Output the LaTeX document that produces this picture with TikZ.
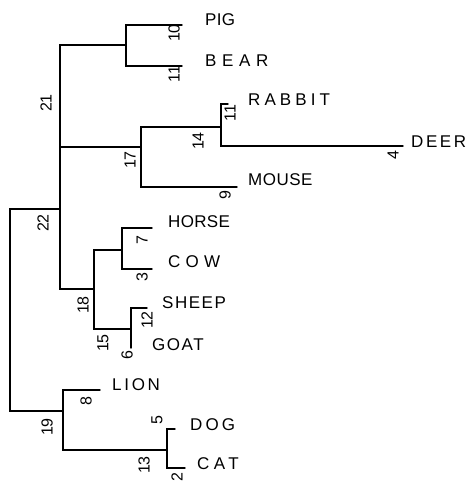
\documentclass[tikz,border=0pt]{standalone}
\usepackage{fontspec}
\setmainfont{Liberation Sans}
\begin{document}
\begin{tikzpicture}[x=1pt,y=-1pt,
  br/.style={line width=1.4pt, line cap=round, line join=miter},
  lab/.style={anchor=west, inner sep=0pt, font=\fontsize{17}{20}\selectfont\addfontfeature{LetterSpace=#1}},
  num/.style={inner sep=0pt, rotate=90, font=\fontsize{16}{18}\selectfont}]
\useasboundingbox (0,0) rectangle (467,487);
% junction and leaf coordinates
\coordinate (cPB) at (126,45);
\coordinate (pig) at (182,25);
\coordinate (bear) at (182,66);
\coordinate (c17) at (141,147);
\coordinate (c14) at (221,127);
\coordinate (rab) at (228,104);
\coordinate (deer) at (403,146);
\coordinate (mouse) at (237,187);
\coordinate (c22) at (60,209);
\coordinate (c18) at (94,289);
\coordinate (c7) at (122,250);
\coordinate (horse) at (152,228);
\coordinate (cow) at (152,269);
\coordinate (c12) at (131,329);
\coordinate (sheep) at (147,308);
\coordinate (goat) at (131,348);
\coordinate (r) at (10,310);
\coordinate (c19) at (63,411);
\coordinate (lion) at (100,390);
\coordinate (c13) at (167,450);
\coordinate (dog) at (175,429);
\coordinate (cat) at (185,468);
% branches
\draw[br] (pig) -| (cPB) |- (bear);
\draw[br] (cPB) -| (c22) |- (c18);
\draw[br] (c17) -- (c17 -| c22);
\draw[br] (c14) -| (c17) |- (mouse);
\draw[br] (rab) -| (c14) |- (deer);
\draw[br] (c22) -| (r) |- (c19);
\draw[br] (c7) -| (c18) |- (c12);
\draw[br] (horse) -| (c7) |- (cow);
\draw[br] (sheep) -| (c12) -- (goat);
\draw[br] (lion) -| (c19) |- (c13);
\draw[br] (dog) -| (c13) |- (cat);
% species names
\node[lab=2] (tPIG) at (205,20) {PIG};
\node[lab=33] (tBEAR) at (205,61) {BEAR};
\node[lab=24] (tRABBIT) at (248,100) {RABBIT};
\node[lab=15] (tDEER) at (411,142) {DEER};
\node[lab=3] (tMOUSE) at (248,180) {MOUSE};
\node[lab=2] (tHORSE) at (168,222) {HORSE};
\node[lab=31] (tCOW) at (168,262) {COW};
\node[lab=9] (tSHEEP) at (162,303) {SHEEP};
\node[lab=9] (tGOAT) at (152,345) {GOAT};
\node[lab=16] (tLION) at (112,385) {LION};
\node[lab=18] (tDOG) at (190,425) {DOG};
\node[lab=26] (tCAT) at (197,464) {CAT};
% branch numbers
\node[num] (n10) at (174,33) {10};
\node[num] (n11a) at (174,74) {11};
\node[num] (n21) at (46,103) {21};
\node[num] (n11b) at (230,113) {11};
\node[num] (n14) at (198,141) {14};
\node[num] (n4) at (393,155) {4};
\node[num] (n17) at (130,160) {17};
\node[num] (n9) at (225,195) {9};
\node[num] (n22) at (43,223) {22};
\node[num] (n7) at (142,240) {7};
\node[num] (n3) at (142,277) {3};
\node[num] (n18) at (83,305) {18};
\node[num] (n12) at (147,320) {12};
\node[num] (n15) at (103,343) {15};
\node[num] (n6) at (127,355) {6};
\node[num] (n8) at (86,401) {8};
\node[num] (n19) at (47,427) {19};
\node[num] (n5) at (157,420) {5};
\node[num] (n13) at (144,465) {13};
\node[num] (n2) at (177,477) {2};
\end{tikzpicture}
\end{document}
